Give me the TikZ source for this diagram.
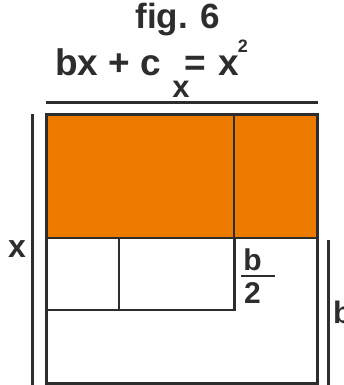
\documentclass[tikz,border=0pt]{standalone}
\usepackage{fontspec}
\setmainfont{Liberation Sans}
\definecolor{ink}{RGB}{45,45,45}
\definecolor{fillorange}{RGB}{237,123,0}
\begin{document}
\begin{tikzpicture}[x=1pt,y=-1pt,
  thick line/.style={draw=ink,line width=3pt},
  thin line/.style={draw=ink,line width=2pt},
  lbl/.style={inner sep=0pt,text=ink,font=\bfseries\fontsize{#1}{#1}\selectfont},
  lbl/.default=31]
\useasboundingbox (0,0) rectangle (343,385);
% orange region
\fill[fillorange] (46,115) rectangle (317,238);
% inner lines
\draw[thin line] (234,115) -- (234,238);
\draw[thin line] (46,238) -- (317,238);
\draw[thin line] (119,238) -- (119,310);
\draw[thin line] (46,310) -- (235.5,310);
\draw[thick line] (234,237) -- (234,311);
% outer rectangle
\draw[thick line] (46,115) rectangle (317,383);
% dimension bars
\draw[thick line] (46,103) -- (318,103);
\draw[thick line] (32,114) -- (32,385);
\draw[thick line] (328,240) -- (328,385);
% fraction bar
\draw[draw=ink,line width=2.5pt] (241,276) -- (275,276);
% texts
\node[lbl=35,anchor=base] (title) at (178,29) {fig. 6};
\node[lbl=37,anchor=base west] (bxc) at (55,76) {bx + c};
\node[lbl=37,anchor=base] (eq) at (195.5,76) {=};
\node[lbl=37,anchor=base] (xx) at (228.5,76) {x};
\node[lbl=18,anchor=base] (sq) at (243,53) {2};
\node[lbl=31,anchor=base] (subx) at (181,98) {x};
\node[lbl=32,anchor=base] (lx) at (17,257) {x};
\node[lbl=30,anchor=base] (fb) at (252.5,270) {b};
\node[lbl=30,anchor=base] (f2) at (252.5,303) {2};
\node[lbl=31,anchor=base west] (rb) at (333,323) {b};
\end{tikzpicture}
\end{document}
